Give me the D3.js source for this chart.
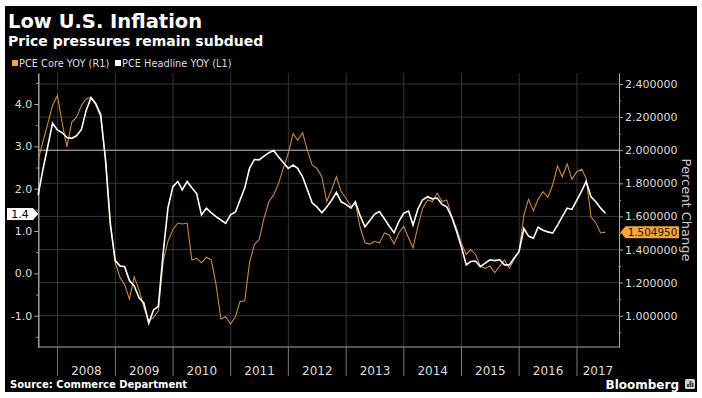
<!DOCTYPE html>
<html>
<head>
<meta charset="utf-8">
<script src="https://cdnjs.cloudflare.com/ajax/libs/d3/7.8.5/d3.min.js"></script>
<style>
    body { margin: 0; background: #fff; }
    svg { display: block; font-family: "DejaVu Sans", sans-serif; }
</style>
</head>
<body>
<div id="chart"></div>
<script>
(function() {
    'use strict';

    // Data: monthly YoY %, Aug 2007 .. Jun 2017
    var firstMonth = "2007-08";
    var headlineYoy = [
        1.85, 2.45, 3.00, 3.55, 3.39,
        3.32, 3.21, 3.19, 3.25, 3.40, 3.85, 4.15, 4.00, 3.75, 2.65, 1.15, 0.30,
        0.17, 0.16, -0.17, -0.30, -0.58, -0.70, -1.18, -0.86, -0.78, 0.50, 1.55, 2.05,
        2.17, 1.97, 2.17, 2.02, 1.88, 1.38, 1.54, 1.43, 1.34, 1.26, 1.18, 1.38,
        1.45, 1.72, 2.02, 2.48, 2.69, 2.68, 2.77, 2.85, 2.90, 2.75, 2.62, 2.48,
        2.56, 2.48, 2.28, 1.98, 1.66, 1.57, 1.43, 1.57, 1.72, 1.91, 1.69, 1.63,
        1.54, 1.69, 1.35, 1.10, 1.25, 1.40, 1.46, 1.29, 1.12, 0.96, 1.22, 1.42,
        1.47, 1.14, 1.52, 1.74, 1.81, 1.76, 1.78, 1.63, 1.57, 1.33, 1.00, 0.63,
        0.20, 0.28, 0.29, 0.16, 0.24, 0.32, 0.30, 0.32, 0.20, 0.20, 0.36, 0.51,
        1.06, 0.88, 0.83, 1.09, 1.02, 0.98, 0.95, 1.14, 1.34, 1.54, 1.51, 1.73,
        1.95, 2.17, 1.81, 1.69, 1.54, 1.42
    ];
    var coreYoy = [
        1.94, 2.05, 2.16, 2.27, 2.33,
        2.16, 2.02, 2.17, 2.20, 2.27, 2.31, 2.32, 2.27, 2.20, 1.95, 1.57, 1.32,
        1.23, 1.19, 1.10, 1.235, 1.155, 1.05, 0.97, 0.99, 1.03, 1.33, 1.45, 1.52,
        1.56, 1.554, 1.56, 1.337, 1.347, 1.32, 1.353, 1.337, 1.19, 0.98, 0.994, 0.95,
        0.994, 1.085, 1.09, 1.32, 1.43, 1.46, 1.59, 1.69, 1.73, 1.80, 1.89, 1.98,
        2.10, 2.06, 2.106, 2.00, 1.91, 1.89, 1.84, 1.69, 1.76, 1.84, 1.75, 1.71,
        1.66, 1.68, 1.53, 1.44, 1.433, 1.45, 1.44, 1.50, 1.488, 1.433, 1.50, 1.54,
        1.47, 1.41, 1.54, 1.65, 1.70, 1.69, 1.74, 1.69, 1.70, 1.60, 1.53, 1.44,
        1.37, 1.40, 1.37, 1.30, 1.286, 1.30, 1.26, 1.30, 1.337, 1.286, 1.34, 1.387,
        1.608, 1.703, 1.634, 1.703, 1.749, 1.715, 1.79, 1.905, 1.84, 1.917, 1.824, 1.87,
        1.885, 1.83, 1.598, 1.56, 1.50, 1.50495
    ];
    var yearLabels = ["2008", "2009", "2010", "2011", "2012", "2013", "2014", "2015", "2016", "2017"];
    var leftTicks = [-1, 0, 1, 2, 3, 4];
    var leftMinorTicks = [-1.5, -0.5, 0.5, 1.5, 2.5, 3.5, 4.5];
    var rightTicks = [1.0, 1.2, 1.4, 1.6, 1.8, 2.0, 2.2, 2.4];
    var rightMinorTicks = [0.9, 1.1, 1.3, 1.5, 1.7, 1.9, 2.1, 2.3];
    var targetLine = 2.0;

    var colors = {
        core: "#c98740",
        coreKey: "#f5a53a",
        headline: "#ffffff",
        grid: "#353535",
        axis: "#a8a8a8",
        text: "#dddddd"
    };

    // Base Layout
    var layout = {
        width: 702,
        height: 398,
        left: 38.3,
        right: 619,
        top: 73,
        bottom: 347
    };

    var parseMonth = d3.timeParse("%Y-%m");
    var start = parseMonth(firstMonth);
    // points sit at the end of their month
    var dates = headlineYoy.map(function(v, i) {
        return d3.timeDay.offset(d3.timeMonth.offset(start, i + 1), -1);
    });

    var xScale = d3.scaleTime()
        .domain([new Date(2007, 8, 1), new Date(2017, 8, 24)])
        .range([layout.left, layout.right]);
    var yLeft = d3.scaleLinear()
        .domain([-1.74, 4.733])
        .range([layout.bottom, layout.top]);
    var yRight = d3.scaleLinear()
        .domain([0.811, 2.4665])
        .range([layout.bottom, layout.top]);

    // Create D3 Elements
    var svg = d3.select("#chart").append("svg")
        .attr("width", layout.width)
        .attr("height", layout.height);

    svg.append("rect")
        .attr("x", 5).attr("y", 6)
        .attr("width", 692).attr("height", 386)
        .attr("fill", "#000");

    // Titles
    svg.append("text")
        .attr("x", 8).attr("y", 28)
        .attr("fill", "#fff")
        .attr("font-size", 19.5)
        .attr("font-weight", "bold")
        .text("Low U.S. Inflation");
    svg.append("text")
        .attr("x", 8).attr("y", 46)
        .attr("fill", "#fff")
        .attr("font-size", 14)
        .attr("font-weight", "bold")
        .text("Price pressures remain subdued");

    // Legend
    var legend = [
        { label: "PCE Core YOY (R1)", color: colors.coreKey, x: 12 },
        { label: "PCE Headline YOY (L1)", color: colors.headline, x: 115 }
    ];
    legend.forEach(function(d) {
        svg.append("rect")
            .attr("x", d.x).attr("y", 60)
            .attr("width", 6).attr("height", 6)
            .attr("fill", d.color);
        svg.append("text")
            .attr("x", d.x + 7).attr("y", 66.5)
            .attr("fill", colors.text)
            .attr("font-size", 9.8)
            .text(d.label);
    });

    // Grid
    var years = yearLabels.map(function(y) { return new Date(+y, 0, 1); });
    var grid = svg.append("g");
    years.forEach(function(d) {
        grid.append("line")
            .attr("x1", xScale(d)).attr("x2", xScale(d))
            .attr("y1", layout.top).attr("y2", layout.bottom)
            .attr("stroke", colors.grid);
    });
    rightTicks.forEach(function(v) {
        grid.append("line")
            .attr("x1", layout.left).attr("x2", layout.right)
            .attr("y1", yRight(v)).attr("y2", yRight(v))
            .attr("stroke", v === targetLine ? "#c8c8c8" : colors.grid);
    });

    // Axes
    var styleAxis = function(g) {
        g.selectAll("path, line").attr("stroke", colors.axis);
        g.selectAll("text")
            .attr("fill", colors.text)
            .attr("font-size", 11)
            .attr("font-family", "DejaVu Sans, sans-serif");
    };

    svg.append("g")
        .attr("transform", "translate(" + layout.left + ",0)")
        .call(d3.axisLeft(yLeft).tickValues(leftTicks).tickSize(4).tickSizeOuter(0).tickPadding(2)
            .tickFormat(function(d) { return d.toFixed(1); }))
        .call(styleAxis);
    svg.append("g")
        .attr("transform", "translate(" + layout.left + ",0)")
        .call(d3.axisLeft(yLeft).tickValues(leftMinorTicks).tickSize(2).tickSizeOuter(0).tickFormat(""))
        .call(styleAxis);

    svg.append("g")
        .attr("transform", "translate(" + layout.right + ",0)")
        .call(d3.axisRight(yRight).tickValues(rightTicks).tickSize(4).tickSizeOuter(0).tickPadding(2)
            .tickFormat(function(d) { return d.toFixed(6); }))
        .call(styleAxis);
    svg.append("g")
        .attr("transform", "translate(" + layout.right + ",0)")
        .call(d3.axisRight(yRight).tickValues(rightMinorTicks).tickSize(2).tickSizeOuter(0).tickFormat(""))
        .call(styleAxis);

    svg.append("line")
        .attr("x1", layout.left).attr("x2", layout.right)
        .attr("y1", layout.bottom).attr("y2", layout.bottom)
        .attr("stroke", colors.axis);

    // Year separators + labels
    years.forEach(function(d, i) {
        var x0 = xScale(d);
        var next = i < years.length - 1 ? xScale(years[i + 1]) : layout.right;
        svg.append("line")
            .attr("x1", x0).attr("x2", x0)
            .attr("y1", layout.bottom).attr("y2", layout.bottom + 29)
            .attr("stroke", "#777");
        svg.append("text")
            .attr("x", (x0 + next) / 2).attr("y", 375)
            .attr("text-anchor", "middle")
            .attr("fill", colors.text)
            .attr("font-size", 12)
            .text(yearLabels[i]);
    });

    // Lines
    var coreLine = d3.line()
        .x(function(d, i) { return xScale(dates[i]); })
        .y(function(d) { return yRight(d); });
    var headlineLine = d3.line()
        .x(function(d, i) { return xScale(dates[i]); })
        .y(function(d) { return yLeft(d); });

    svg.append("path")
        .datum(coreYoy)
        .attr("fill", "none")
        .attr("stroke", colors.core)
        .attr("stroke-width", 1.1)
        .attr("d", coreLine);
    svg.append("path")
        .datum(headlineYoy)
        .attr("fill", "none")
        .attr("stroke", colors.headline)
        .attr("stroke-width", 1.6)
        .attr("d", headlineLine);

    // Last value tags
    var lastHead = headlineYoy[headlineYoy.length - 1];
    var lastCore = coreYoy[coreYoy.length - 1];

    var yl = yLeft(+lastHead.toFixed(1));
    svg.append("path")
        .attr("d", "M7," + (yl - 6) + "H33L38.3," + yl + "L33," + (yl + 6) + "H7Z")
        .attr("fill", "#fff");
    svg.append("text")
        .attr("x", 20).attr("y", yl + 4)
        .attr("text-anchor", "middle")
        .attr("font-size", 11)
        .attr("fill", "#000")
        .text(lastHead.toFixed(1));

    var yr = yRight(lastCore);
    svg.append("path")
        .attr("d", "M620.5," + yr + "L625.5," + (yr - 6) + "H679V" + (yr + 6) + "H625.5Z")
        .attr("fill", colors.coreKey);
    svg.append("text")
        .attr("x", 652.5).attr("y", yr + 4)
        .attr("text-anchor", "middle")
        .attr("font-size", 10.4)
        .attr("fill", "#1a1a1a")
        .text(lastCore.toFixed(6));

    // Right axis title
    svg.append("text")
        .attr("transform", "translate(682,210) rotate(90)")
        .attr("text-anchor", "middle")
        .attr("font-size", 13)
        .attr("fill", "#cccccc")
        .text("Percent Change");

    // Footer
    svg.append("text")
        .attr("x", 10).attr("y", 388)
        .attr("fill", "#fff")
        .attr("font-size", 10)
        .attr("font-weight", "bold")
        .text("Source: Commerce Department");
    svg.append("text")
        .attr("x", 679).attr("y", 388.5)
        .attr("text-anchor", "end")
        .attr("fill", "#fff")
        .attr("font-size", 12)
        .attr("font-weight", "bold")
        .text("Bloomberg");
    var logo = svg.append("g").attr("transform", "translate(685,379)");
    logo.append("rect")
        .attr("width", 10).attr("height", 10).attr("rx", 1.5)
        .attr("fill", "#d0d0d0");
    [[2, 5, 2, 3], [4.5, 2, 2, 6], [7, 4, 1.5, 4]].forEach(function(b) {
        logo.append("rect")
            .attr("x", b[0]).attr("y", b[1])
            .attr("width", b[2]).attr("height", b[3])
            .attr("fill", "#444");
    });

})();
</script>
</body>
</html>
